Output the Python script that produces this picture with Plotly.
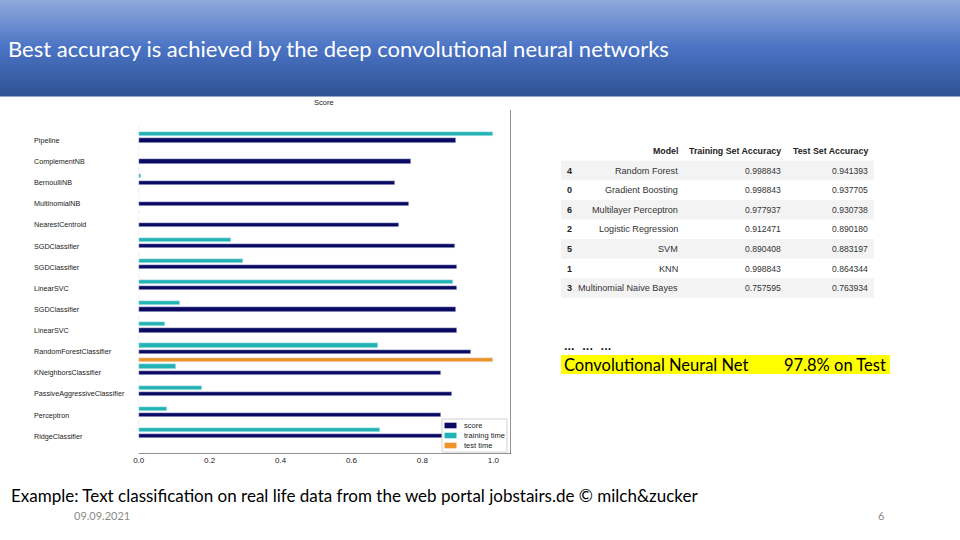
import plotly.graph_objects as go

# ---------------- data ----------------
# classifiers, listed bottom (index 0) to top
classifiers = ["RidgeClassifier", "Perceptron", "PassiveAggressiveClassifier",
               "KNeighborsClassifier", "RandomForestClassifier", "LinearSVC",
               "SGDClassifier", "LinearSVC", "SGDClassifier", "SGDClassifier",
               "NearestCentroid", "MultinomialNB", "BernoulliNB", "ComplementNB",
               "Pipeline"]
score = [0.890, 0.852, 0.883, 0.852, 0.936, 0.897, 0.894, 0.899, 0.899, 0.891,
         0.733, 0.763, 0.722, 0.767, 0.896]
training_time = [0.680, 0.079, 0.178, 0.104, 0.674, 0.073, 0.116, 0.885, 0.293,
                 0.259, 0.001, 0.001, 0.005, 0.001, 1.000]
test_time = [0.001, 0.001, 0.001, 1.000, 0.001, 0.001, 0.001, 0.001, 0.001,
             0.001, 0.001, 0.001, 0.001, 0.001, 0.001]
series_names = ["score", "training time", "test time"]
x_ticks = [0.0, 0.2, 0.4, 0.6, 0.8, 1.0]
x_tick_labels = ["0.0", "0.2", "0.4", "0.6", "0.8", "1.0"]

table_header = ["Model", "Training Set Accuracy", "Test Set Accuracy"]
table_index = ["4", "0", "6", "2", "5", "1", "3"]
table_model = ["Random Forest", "Gradient Boosting", "Multilayer Perceptron",
               "Logistic Regression", "SVM", "KNN", "Multinomial Naive Bayes"]
table_train = ["0.998843", "0.998843", "0.977937", "0.912471", "0.890408",
               "0.998843", "0.757595"]
table_test = ["0.941393", "0.937705", "0.930738", "0.890180", "0.883197",
              "0.864344", "0.763934"]

title_text = "Best accuracy is achieved by the deep convolutional neural networks"
footer_text = "Example: Text classification on real life data from the web portal jobstairs.de © milch&zucker"
date_text = "09.09.2021"
page_text = "6"
cnn_label = "Convolutional Neural Net"
cnn_value = "97.8% on Test"

# ---------------- helpers ----------------
W, H = 960, 540
def px(x):
    return x / W
def py(y):
    return 1 - y / H

NAVY = "#0a0a62"
TEAL = "#22b4b4"
ORANGE = "#ec9429"
COLORS = [NAVY, TEAL, ORANGE]

YMIN, YMAX = -0.84, 15.44
XMIN, XMAX = -0.05, 1.05
XDOM = [px(121), px(511)]
def xpaper(v):
    return XDOM[0] + (v - XMIN) / (XMAX - XMIN) * (XDOM[1] - XDOM[0])

idx = list(range(len(classifiers)))

fig = go.Figure()
fig.add_trace(go.Bar(y=idx, x=score, orientation="h", width=0.2,
                     marker_color=COLORS[0], name=series_names[0]))
fig.add_trace(go.Bar(y=[i + 0.3 for i in idx], x=training_time, orientation="h",
                     width=0.2, marker_color=COLORS[1], name=series_names[1]))
fig.add_trace(go.Bar(y=[i + 0.6 for i in idx], x=test_time, orientation="h",
                     width=0.2, marker_color=COLORS[2], name=series_names[2]))

shapes = []
# header gradient
stops = [(0, (143, 170, 220)), (48, (74, 115, 196)), (96, (46, 82, 146))]
band = 2
for y0 in range(0, 96, band):
    yc = y0 + band / 2
    for (a, ca), (b, cb) in zip(stops[:-1], stops[1:]):
        if a <= yc <= b:
            t = (yc - a) / (b - a)
            c = tuple(int(round(ca[k] + (cb[k] - ca[k]) * t)) for k in range(3))
            break
    shapes.append(dict(type="rect", xref="paper", yref="paper", x0=0, x1=1,
                       y0=py(y0 + band + 0.5), y1=py(y0), line_width=0,
                       fillcolor="rgb(%d,%d,%d)" % c, layer="below"))

# spines
shapes.append(dict(type="line", xref="x", yref="y", x0=XMAX, x1=XMAX, y0=YMIN, y1=YMAX,
                   line=dict(color="#222", width=1)))
shapes.append(dict(type="line", xref="x", yref="y", x0=0, x1=XMAX, y0=YMIN, y1=YMIN,
                   line=dict(color="#222", width=1)))

# manual legend (lower right, matplotlib style)
shapes.append(dict(type="rect", xref="paper", yref="paper", x0=px(442), x1=px(507),
                   y0=py(452), y1=py(419), line=dict(color="#d0d0d0", width=1),
                   fillcolor="white", layer="above"))
ann = []
for k, (nm, col) in enumerate(zip(series_names, COLORS)):
    yy = 425.5 + k * 10
    shapes.append(dict(type="rect", xref="paper", yref="paper", x0=px(444.5), x1=px(456.5),
                       y0=py(yy + 2.8), y1=py(yy - 2.8), line_width=0, fillcolor=col,
                       layer="above"))
    ann.append(dict(x=px(462), y=py(yy), xref="paper", yref="paper", text=nm,
                    showarrow=False, xanchor="left", yanchor="middle",
                    font=dict(family="Liberation Sans", size=7.5, color="#222")))

# table stripes
row_y = [170.5, 190.1, 209.7, 229.3, 248.9, 268.5, 288.1]
for k, ry in enumerate(row_y):
    if k % 2 == 0:
        shapes.append(dict(type="rect", xref="paper", yref="paper", x0=px(561), x1=px(874),
                           y0=py(ry + 9.8), y1=py(ry - 9.8), line_width=0,
                           fillcolor="#f3f3f3", layer="below"))
# yellow highlight
shapes.append(dict(type="rect", xref="paper", yref="paper", x0=px(561), x1=px(890),
                   y0=py(374), y1=py(355), line_width=0, fillcolor="#ffff00", layer="below"))

# classifier labels
for i, name in zip(idx, classifiers):
    ann.append(dict(x=xpaper(-0.3), y=i, xref="paper", yref="y", text=name, showarrow=False,
                    xanchor="left", yanchor="middle",
                    font=dict(family="Liberation Sans", size=7.2, color="#222")))
ann.append(dict(x=px(324), y=py(102), xref="paper", yref="paper", text="Score",
                showarrow=False, xanchor="center", yanchor="middle",
                font=dict(family="Liberation Sans", size=7.5, color="#222")))

# header title
ann.append(dict(x=px(6), y=py(48), xref="paper", yref="paper", text=title_text,
                showarrow=False, xanchor="left", yanchor="middle",
                font=dict(family="Lato", size=22, color="white")))

# table
TF = "Liberation Sans"
hy = 151
for hx, ht in zip([680, 783, 870], table_header):
    ann.append(dict(x=px(hx), y=py(hy), xref="paper", yref="paper", text="<b>%s</b>" % ht,
                    showarrow=False, xanchor="right", yanchor="middle",
                    font=dict(family=TF, size=8.8, color="#222")))
for ry, a, b, c, d in zip(row_y, table_index, table_model, table_train, table_test):
    ann.append(dict(x=px(565), y=py(ry), xref="paper", yref="paper", text="<b>%s</b>" % a,
                    showarrow=False, xanchor="left", yanchor="middle", font=dict(family=TF, size=9, color="#222")))
    ann.append(dict(x=px(680), y=py(ry), xref="paper", yref="paper", text=b,
                    showarrow=False, xanchor="right", yanchor="middle", font=dict(family=TF, size=9.1, color="#333")))
    ann.append(dict(x=px(783), y=py(ry), xref="paper", yref="paper", text=c,
                    showarrow=False, xanchor="right", yanchor="middle", font=dict(family=TF, size=8.6, color="#333")))
    ann.append(dict(x=px(870), y=py(ry), xref="paper", yref="paper", text=d,
                    showarrow=False, xanchor="right", yanchor="middle", font=dict(family=TF, size=8.6, color="#333")))

# CNN note
ann.append(dict(x=px(562), y=py(344), xref="paper", yref="paper", text="...  ...  ...",
                showarrow=False, xanchor="left", yanchor="middle", font=dict(family="Lato", size=15, color="black")))
ann.append(dict(x=px(562), y=py(364.5), xref="paper", yref="paper", text=cnn_label,
                showarrow=False, xanchor="left", yanchor="middle", font=dict(family="Lato", size=16.5, color="black")))
ann.append(dict(x=px(888), y=py(364.5), xref="paper", yref="paper", text=cnn_value,
                showarrow=False, xanchor="right", yanchor="middle", font=dict(family="Lato", size=16.5, color="black")))

# footer
ann.append(dict(x=px(9), y=py(495), xref="paper", yref="paper", text=footer_text,
                showarrow=False, xanchor="left", yanchor="middle", font=dict(family="Lato", size=17, color="black")))
ann.append(dict(x=px(72), y=py(515), xref="paper", yref="paper", text=date_text,
                showarrow=False, xanchor="left", yanchor="middle", font=dict(family="Lato", size=11, color="#8a8a8a")))
ann.append(dict(x=px(886), y=py(515), xref="paper", yref="paper", text=page_text,
                showarrow=False, xanchor="right", yanchor="middle", font=dict(family="Lato", size=11, color="#8a8a8a")))

fig.update_layout(
    width=W, height=H, margin=dict(l=0, r=0, t=0, b=0),
    paper_bgcolor="white", plot_bgcolor="white",
    barmode="overlay", bargap=0,
    showlegend=False,
    xaxis=dict(domain=XDOM, range=[XMIN, XMAX], tickvals=x_ticks,
               ticktext=x_tick_labels, showgrid=False, zeroline=False, showline=False,
               ticks="", tickfont=dict(family="Liberation Sans", size=8, color="#222"),
               fixedrange=True),
    yaxis=dict(domain=[py(454), py(110)], range=[YMIN, YMAX], showticklabels=False,
               showgrid=False, zeroline=False, showline=False, ticks="", fixedrange=True),
    shapes=shapes, annotations=ann,
)

fig.write_html("out.html", config={"displayModeBar": False},
               post_script="document.body.style.margin='0';document.body.style.padding='0';")
